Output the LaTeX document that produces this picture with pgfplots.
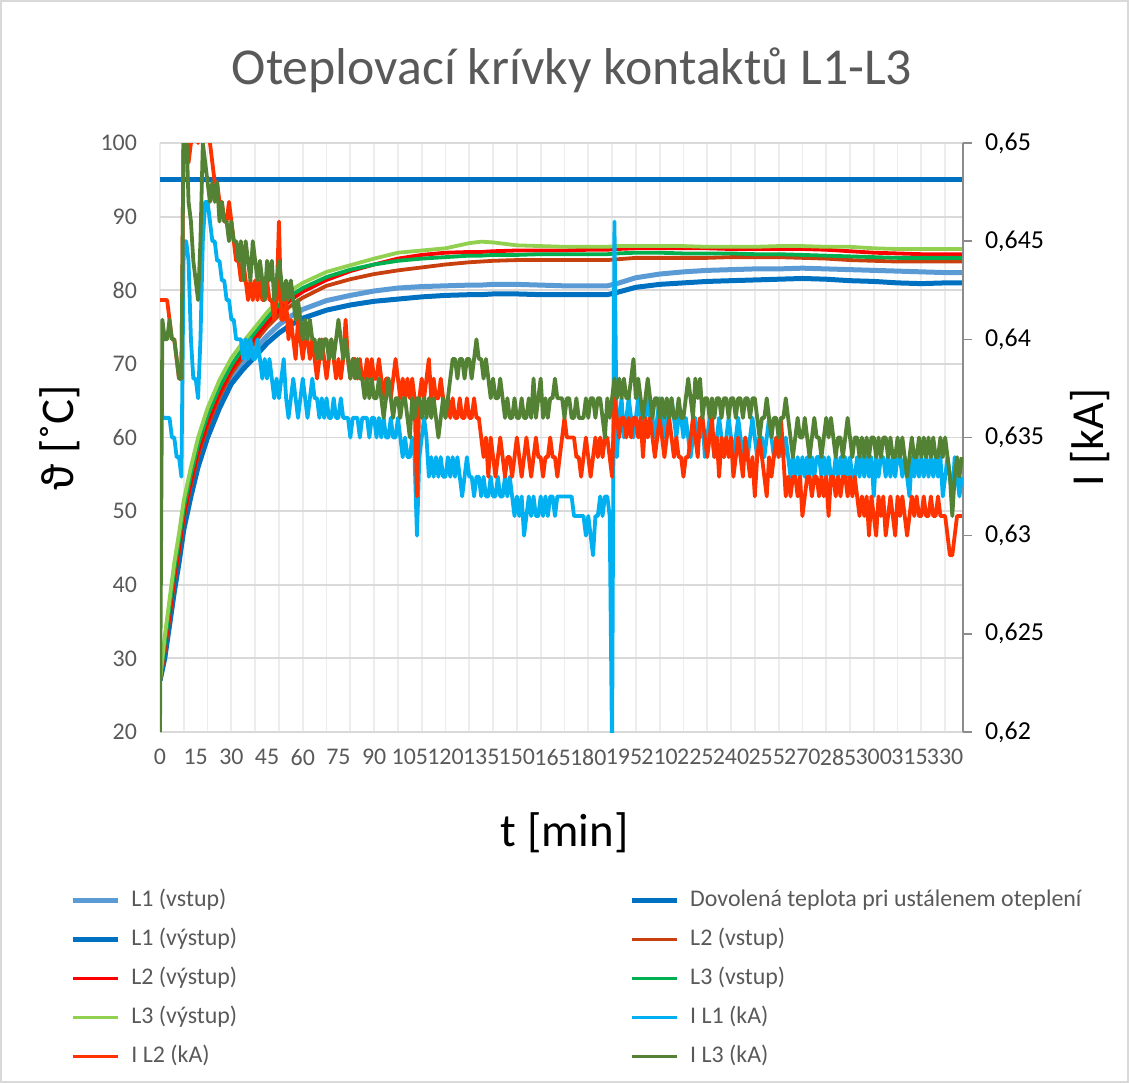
\documentclass[border=0pt]{standalone}
\usepackage{fontspec}
\setmainfont{Carlito}
\usepackage{pgfplots}
\pgfplotsset{compat=1.18}
\usepackage{pgfplotstable}
\definecolor{cLonev}{HTML}{5B9BD5}
\definecolor{cLonex}{HTML}{0070C0}
\definecolor{cDov}{HTML}{0070C0}
\definecolor{cLtwov}{HTML}{C8400E}
\definecolor{cLtwox}{HTML}{FF0000}
\definecolor{cLthrv}{HTML}{00B050}
\definecolor{cLthrx}{HTML}{92D050}
\definecolor{cIone}{HTML}{00B0F0}
\definecolor{cItwo}{HTML}{FF3300}
\definecolor{cIthr}{HTML}{548235}
\definecolor{gridh}{HTML}{D9D9D9}
\definecolor{gridv}{HTML}{EDEDED}
\definecolor{txtgray}{HTML}{595959}
\definecolor{axgray}{HTML}{8C8C8C}

\pgfplotstableread{
t L1v L1x L2v L2x L3v L3x
0 27 27 27 27 27 27
2 30.5 30 31 31.5 32 33
4 35 34.5 35.5 36 37 38
6 39.5 39 40.5 41 42 43
8 43.5 43 44.5 45 46 47
10 48 47.5 49 49.5 50.5 51.5
13 52.5 52 53.5 54 55 56
16 56.5 56 57.5 58 59 60
20 60.5 60 61.5 62 63 64
25 64.5 64 65.5 66 66.8 67.8
30 67.8 67.3 68.7 69.2 69.8 70.8
35 70 69.3 71 71.5 72.2 73
40 72 71 73 73.6 74.3 75
45 73.8 72.8 75 75.6 76.3 77
50 75.3 74.2 76.6 77.3 78 78.8
55 76.5 75.3 77.9 78.7 79.3 80
60 77.4 76.2 79 79.8 80.3 81
70 78.6 77.3 80.6 81.4 81.8 82.5
80 79.3 78 81.5 82.6 82.8 83.4
90 79.9 78.5 82.2 83.5 83.5 84.3
100 80.3 78.8 82.7 84.3 84 85.1
110 80.5 79.1 83.1 84.8 84.3 85.4
120 80.6 79.3 83.5 85.1 84.5 85.7
130 80.7 79.4 83.8 85.2 84.7 86.4
135 80.7 79.4 83.9 85.2 84.7 86.6
140 80.8 79.5 84 85.3 84.8 86.5
150 80.8 79.5 84.1 85.4 84.8 86.1
160 80.7 79.4 84.1 85.4 84.9 86
170 80.6 79.4 84.1 85.4 84.9 85.9
180 80.6 79.4 84.1 85.5 84.9 85.9
188 80.6 79.4 84.1 85.5 84.9 85.9
192 80.9 79.7 84.2 85.6 85 86
200 81.7 80.4 84.4 85.7 85.1 86
210 82.2 80.8 84.4 85.7 85.1 86
220 82.5 81 84.4 85.7 85 86
230 82.7 81.2 84.4 85.7 85 85.9
240 82.8 81.3 84.5 85.6 85 85.9
250 82.9 81.4 84.5 85.6 84.9 85.9
260 82.9 81.5 84.5 85.6 84.9 86
270 83 81.6 84.4 85.6 84.8 86
280 82.9 81.5 84.3 85.5 84.7 85.9
290 82.8 81.3 84.1 85.3 84.6 85.9
300 82.7 81.2 84 85.1 84.5 85.7
310 82.6 81 83.9 85 84.4 85.6
320 82.5 80.9 83.9 84.9 84.4 85.6
330 82.4 81 83.9 84.9 84.4 85.6
337 82.4 81 83.9 84.9 84.4 85.6
}\temps

\pgfplotstableread[row sep=\\]{
t a b c\\
0 638 642 620\\ 1 636 642 641\\ 2 636 642 640\\ 3 636 642 640\\ 4 636 641 641\\
5 635 640 640\\ 6 635 640 640\\ 7 634 639 639\\ 8 634 638 638\\ 9 633 638 638\\
10 645 652 652\\ 11 645 651 651\\ 12 644 649 647\\ 13 640 650 646\\ 14 638 652 644\\
15 638 651 643\\ 16 637 650 642\\ 17 640 652 645\\ 18 645 651 650\\ 19 647 652 649\\
20 647 651 648\\ 21 646 650 647\\ 22 645 649 648\\ 23 645 648 647\\ 24 644 648 648\\
25 644 647 646\\ 26 643 647 647\\ 27 643 646 646\\ 28 642 646 646\\ 29 642 647 645\\
30 641 646 646\\ 31 641 645 645\\ 32 640 644 645\\ 33 640 644 644\\ 34 640 643 645\\
35 639 644 643\\ 36 640 643 645\\ 37 639 642 644\\ 38 640 643 643\\ 39 639 642 645\\
40 639 643 644\\ 41 640 642 643\\ 42 639 643 644\\ 43 638 642 643\\ 44 639 642 642\\
45 638 643 644\\ 46 639 642 643\\ 47 638 642 644\\ 48 637 641 642\\ 49 638 642 643\\
50 637 646 644\\ 51 638 641 643\\ 52 639 641 642\\ 53 637 642 643\\ 54 636 640 642\\
55 637 641 643\\ 56 638 640 642\\ 57 637 639 641\\ 58 636 641 642\\ 59 637 640 641\\
60 638 639 640\\ 61 637 640 641\\ 62 636 640 640\\ 63 637 639 641\\ 64 638 640 640\\
65 637 639 640\\ 66 637 638 639\\ 67 636 639 640\\ 68 637 640 639\\ 69 636 639 640\\
70 637 638 640\\ 71 636 639 639\\ 72 636 640 640\\ 73 637 639 639\\ 74 636 638 640\\
75 636 639 641\\ 76 637 638 640\\ 77 636 639 639\\ 78 636 641 640\\ 79 636 639 639\\
80 635 638 638\\ 81 636 639 639\\ 82 636 639 638\\ 83 636 638 639\\ 84 635 639 638\\
85 636 638 638\\ 86 636 638 637\\ 87 636 639 638\\ 88 635 638 637\\ 89 636 639 638\\
90 636 638 637\\ 91 635 638 637\\ 92 636 639 638\\ 93 635 638 637\\ 94 636 637 636\\
95 635 638 637\\ 96 635 638 638\\ 97 636 637 637\\ 98 635 638 636\\ 99 635 639 637\\
100 636 638 637\\ 101 635 637 636\\ 102 634 638 637\\ 103 635 637 637\\ 104 634 638 636\\
105 634 637 635\\ 106 635 638 637\\ 107 634 637 636\\ 108 630 632 637\\ 109 634 637 637\\
110 635 638 636\\ 111 636 637 637\\ 112 635 638 636\\ 113 633 639 637\\ 114 634 637 636\\
115 633 638 637\\ 116 634 637 636\\ 117 633 637 635\\ 118 634 638 636\\ 119 633 637 637\\
120 633 636 636\\ 121 634 637 637\\ 122 633 636 638\\ 123 634 637 639\\ 124 633 636 639\\
125 634 636 638\\ 126 633 637 639\\ 127 632 636 639\\ 128 633 636 638\\ 129 634 637 639\\
130 633 636 639\\ 131 633 636 638\\ 132 632 637 639\\ 133 633 636 640\\ 134 633 636 639\\
135 632 635 639\\ 136 633 634 638\\ 137 632 635 639\\ 138 632 633 638\\ 139 633 635 637\\
140 632 634 638\\ 141 632 633 637\\ 142 633 634 637\\ 143 632 635 638\\ 144 632 634 637\\
145 633 633 636\\ 146 632 634 637\\ 147 633 634 636\\ 148 632 633 636\\ 149 631 634 637\\
150 632 635 636\\ 151 631 634 636\\ 152 632 633 637\\ 153 630 634 636\\ 154 631 635 636\\
155 632 634 637\\ 156 631 633 636\\ 157 632 634 638\\ 158 631 635 636\\ 159 631 634 637\\
160 632 634 638\\ 161 631 633 636\\ 162 632 634 637\\ 163 631 634 636\\ 164 632 635 637\\
165 632 634 637\\ 166 631 634 638\\ 167 632 633 637\\ 168 632 634 637\\ 169 632 635 637\\
170 632 636 636\\ 171 632 635 637\\ 172 632 635 637\\ 173 632 635 636\\ 174 631 635 636\\
175 631 634 637\\ 176 631 634 636\\ 177 631 633 636\\ 178 631 634 636\\ 179 630 635 637\\
180 631 634 636\\ 181 630 633 637\\ 182 629 634 637\\ 183 631 635 636\\ 184 631 634 637\\
185 632 635 637\\ 186 631 634 636\\ 187 632 635 635\\ 188 632 635 637\\ 189 631 634 636\\
190 619 633 637\\ 191 646 637 638\\ 192 634 636 637\\ 193 636 635 638\\ 194 637 636 637\\
195 635 636 638\\ 196 636 635 637\\ 197 637 636 637\\ 198 636 635 638\\ 199 635 636 639\\
200 636 636 637\\ 201 637 635 638\\ 202 636 636 637\\ 203 635 634 636\\ 204 636 636 637\\
205 637 635 638\\ 206 636 636 637\\ 207 636 635 636\\ 208 635 634 637\\ 209 636 635 637\\
210 637 636 636\\ 211 636 635 637\\ 212 635 634 636\\ 213 636 635 637\\ 214 636 636 636\\
215 637 635 637\\ 216 636 634 636\\ 217 635 635 636\\ 218 636 634 637\\ 219 636 634 636\\
220 635 633 636\\ 221 636 634 637\\ 222 635 634 638\\ 223 634 635 637\\ 224 635 636 636\\
225 636 635 638\\ 226 635 634 637\\ 227 635 636 638\\ 228 636 636 636\\ 229 634 635 637\\
230 635 634 637\\ 231 636 635 636\\ 232 635 636 637\\ 233 634 634 636\\ 234 635 635 637\\
235 636 633 637\\ 236 635 635 636\\ 237 634 634 637\\ 238 635 635 637\\ 239 636 634 636\\
240 635 635 637\\ 241 634 633 637\\ 242 635 634 636\\ 243 636 635 637\\ 244 635 634 637\\
245 634 633 636\\ 246 635 635 637\\ 247 634 634 637\\ 248 635 633 636\\ 249 636 634 637\\
250 635 632 637\\ 251 634 634 636\\ 252 635 635 635\\ 253 635 634 636\\ 254 634 633 636\\
255 635 632 637\\ 256 636 634 636\\ 257 635 633 635\\ 258 634 634 636\\ 259 635 635 636\\
260 634 634 635\\ 261 635 636 636\\ 262 634 634 636\\ 263 635 632 637\\ 264 634 633 636\\
265 633 632 635\\ 266 634 633 634\\ 267 633 633 635\\ 268 634 632 636\\ 269 633 633 635\\
270 634 631 635\\ 271 633 632 636\\ 272 634 633 635\\ 273 633 633 634\\ 274 634 632 635\\
275 633 633 636\\ 276 634 633 635\\ 277 634 632 635\\ 278 633 633 634\\ 279 634 632 635\\
280 633 633 636\\ 281 634 631 635\\ 282 633 633 636\\ 283 633 633 635\\ 284 634 632 634\\
285 633 633 635\\ 286 634 632 635\\ 287 633 633 634\\ 288 634 633 635\\ 289 633 632 636\\
290 634 633 635\\ 291 633 632 634\\ 292 633 633 635\\ 293 634 632 635\\ 294 633 631 634\\
295 634 632 635\\ 296 633 631 634\\ 297 634 632 635\\ 298 633 630 634\\ 299 634 632 635\\
300 632 631 635\\ 301 634 630 634\\ 302 633 632 635\\ 303 634 631 634\\ 304 634 632 635\\
305 633 630 635\\ 306 634 631 634\\ 307 633 632 635\\ 308 634 631 634\\ 309 633 630 634\\
310 634 632 635\\ 311 634 631 634\\ 312 633 632 635\\ 313 634 631 634\\ 314 633 630 633\\
315 632 631 634\\ 316 634 632 635\\ 317 633 631 634\\ 318 634 632 634\\ 319 633 631 635\\
320 634 631 634\\ 321 633 632 635\\ 322 634 631 634\\ 323 633 631 635\\ 324 634 632 634\\
325 633 631 635\\ 326 634 631 634\\ 327 633 632 634\\ 328 634 631 635\\ 329 632 631 634\\
330 633 631 635\\ 331 634 630 634\\ 332 633 629 633\\ 333 632 629 631\\ 334 634 630 633\\
335 633 631 634\\ 336 632 631 633\\ 337 633 631 634\\
}\currents

\begin{document}
\begin{tikzpicture}
\useasboundingbox (0,0) rectangle (564.5bp,541.5bp);
\draw[gridh, line width=0.8bp] (0.4bp,0.4bp) rectangle (564.1bp,541.1bp);
\node[font=\fontsize{26}{30}\selectfont, text=txtgray] at (286bp,506.5bp) {Oteplovací krívky kontaktů L1-L3};

\begin{axis}[
  at={(80bp,175.5bp)}, anchor=south west,
  scale only axis, width=401.5bp, height=294.5bp,
  xmin=0, xmax=337.5, ymin=20, ymax=100,
  xtick={0,15,...,330}, ytick={20,30,...,100},
  minor xtick={0,10,...,330},
  xminorgrids=true, xmajorgrids=false, ymajorgrids=true,
  minor grid style={draw=gridv, line width=0.9bp},
  major grid style={draw=gridh, line width=0.9bp},
  axis x line*=bottom, axis y line*=left,
  x axis line style={draw=gridh, line width=0.9bp, -},
  y axis line style={draw=none},
  major tick length=0pt, minor tick length=0pt,
  /pgf/number format/assume math mode=true,
  tick label style={font=\fontsize{12}{14}\selectfont, text=txtgray},
  xticklabel style={yshift=-5bp},
  yticklabel style={xshift=-8bp},
  xlabel={t [min]}, ylabel={ϑ [˚C]},
  every axis x label/.style={at={(axis description cs:0.504,-0.1715)}, anchor=center, font=\fontsize{23.5}{28}\selectfont},
  every axis y label/.style={at={(axis description cs:-0.1245,0.5)}, rotate=90, anchor=center, font=\fontsize{23.5}{28}\selectfont},
  line join=round,
]
\addplot[no markers, draw=cLonev, line width=2.5bp] table[x=t, y=L1v] {\temps};
\addplot[no markers, draw=cDov, line width=2.5bp] coordinates {(0,95) (337,95)};
\addplot[no markers, draw=cLonex, line width=2.5bp] table[x=t, y=L1x] {\temps};
\addplot[no markers, draw=cLtwov, line width=1.9bp] table[x=t, y=L2v] {\temps};
\addplot[no markers, draw=cLtwox, line width=1.9bp] table[x=t, y=L2x] {\temps};
\addplot[no markers, draw=cLthrv, line width=1.9bp] table[x=t, y=L3v] {\temps};
\addplot[no markers, draw=cLthrx, line width=1.9bp] table[x=t, y=L3x] {\temps};
\end{axis}

\begin{axis}[
  at={(80bp,175.5bp)}, anchor=south west,
  scale only axis, width=401.5bp, height=294.5bp,
  xmin=0, xmax=337.5, ymin=620, ymax=650,
  axis x line=none, axis y line*=right,
  y axis line style={draw=axgray, line width=0.8bp, -},
  ytick={620,625,...,650},
  yticklabels={{0,62},{0,625},{0,63},{0,635},{0,64},{0,645},{0,65}},
  ytick style={draw=axgray, line width=0.8bp},
  tick align=outside, major tick length=4.5bp,
  yticklabel style={font=\fontsize{13}{15}\selectfont, text=black, xshift=3bp},
  ylabel={I [kA]},
  every axis y label/.style={at={(axis description cs:1.158,0.5)}, rotate=90, anchor=center, font=\fontsize{23}{28}\selectfont},
  line join=round,
  legend image code/.code={\draw[#1] (0bp,0bp) -- (22.5bp,0bp);},
  legend columns=2,
  legend cell align=left,
  legend style={at={(axis description cs:0,0)}, anchor=north west,
    xshift=-45bp, yshift=-77bp, draw=none, fill=none, inner sep=0pt,
    font=\fontsize{12}{14}\selectfont, text=txtgray, row sep=5.5bp,
    nodes={inner sep=1bp, text height=9bp, text depth=3bp},
    /tikz/column 1/.style={column sep=4.5bp},
    /tikz/column 2/.style={column sep=195bp},
    /tikz/column 3/.style={column sep=4.5bp}},
]
\addlegendimage{no markers, draw=cLonev, line width=2.5bp}
\addlegendentry{L1 (vstup)}
\addlegendimage{no markers, draw=cDov, line width=2.5bp}
\addlegendentry{Dovolená teplota pri ustálenem oteplení}
\addlegendimage{no markers, draw=cLonex, line width=2.5bp}
\addlegendentry{L1 (výstup)}
\addlegendimage{no markers, draw=cLtwov, line width=1.9bp}
\addlegendentry{L2 (vstup)}
\addlegendimage{no markers, draw=cLtwox, line width=1.9bp}
\addlegendentry{L2 (výstup)}
\addlegendimage{no markers, draw=cLthrv, line width=1.9bp}
\addlegendentry{L3 (vstup)}
\addlegendimage{no markers, draw=cLthrx, line width=1.9bp}
\addlegendentry{L3 (výstup)}
\addplot[no markers, draw=cIone, line width=1.9bp] table[x=t, y=a] {\currents};
\addlegendentry{I L1 (kA)}
\addplot[no markers, draw=cItwo, line width=1.9bp] table[x=t, y=b] {\currents};
\addlegendentry{I L2 (kA)}
\addplot[no markers, draw=cIthr, line width=1.9bp] table[x=t, y=c] {\currents};
\addlegendentry{I L3 (kA)}
\end{axis}
\end{tikzpicture}
\end{document}
